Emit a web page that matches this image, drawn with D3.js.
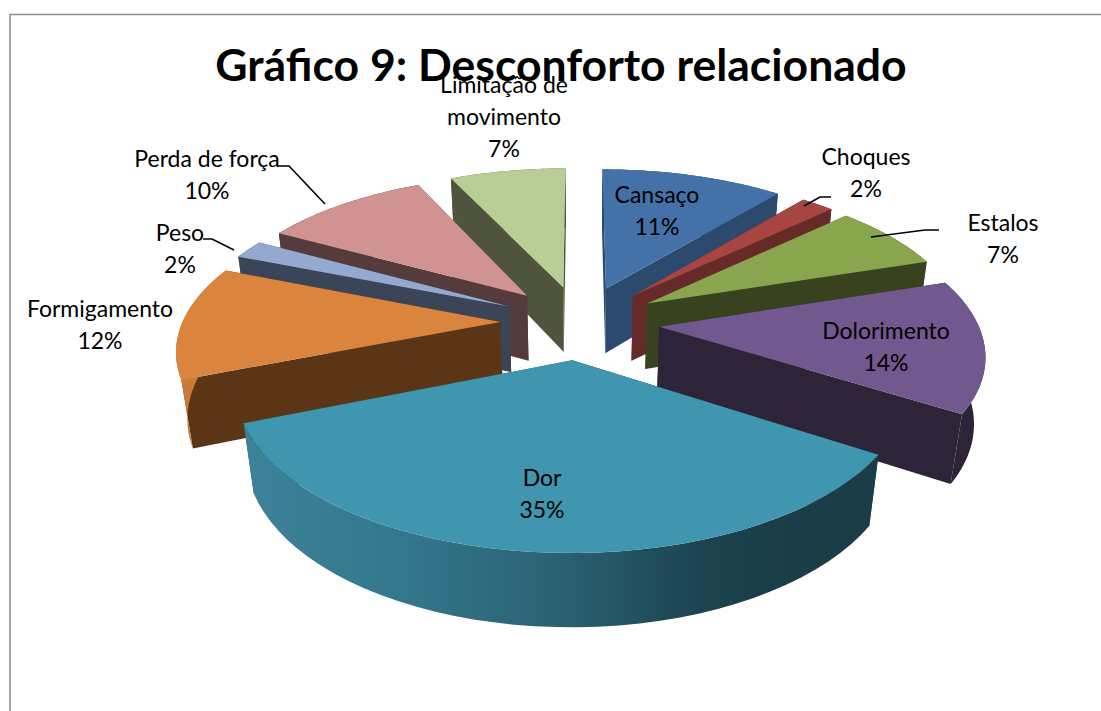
<!DOCTYPE html>
<html><head><meta charset="utf-8">
<script src="https://cdn.jsdelivr.net/npm/d3@7"></script>
<style>html,body{margin:0;padding:0;background:#fff;overflow:hidden}svg{display:block}text{font-family:Lato,"Open Sans",sans-serif;fill:#000}</style>
</head><body><svg id="c" width="1101" height="711"></svg>
<script>
const categories=["Cansaço","Choques","Estalos","Dolorimento","Dor","Formigamento","Peso","Perda de força","Limitação de movimento"];
const values=[11,2,7,14,35,12,2,10,7];
const topColors=["#4472a8","#a64541","#89a54e","#71588f","#4096ae","#db843d","#93a9cf","#d19392","#b9cd96"];
const wallColors=["#2b4a6e","#662a28","#38421e","#2e2439","#1a3d47","#5a3617","#3a4557","#553b3c","#4e553c"];
const labelLines=[["Cansaço"],["Choques"],["Estalos"],["Dolorimento"],["Dor"],["Formigamento"],["Peso"],["Perda de força"],["Limitação de","movimento"]];
const labelAnchors=[[657,203],[866,165],[1003,231],[886,339],[542,486],[100,317],[180,241],[207,167],[504,93]];
const leaders=[null,[[831,197],[820,197],[804,206]],[[939,230],[925,230],[871,237]],null,null,null,[[203,239],[212,239],[234,250]],[[277,166],[289,166],[325,204]],null];

const W=1101,H=711,FS=23,LH=32;
const cx=580,cy=322,R=318,K=148,D=68,P=.16,Q=.028,EX=.25;
const svg=d3.select("#c");
svg.append("rect").attr("x",10).attr("y",14.5).attr("width",1200).attr("height",800).attr("fill","#fff").attr("stroke","#8c8c8c").attr("stroke-width",1.5);

const project=(X,Y,h)=>{const f=1/(1-P*Y+Q*h);return [cx+R*X*f,cy+(K*Y+D*h)*f];};
const pie=d3.pie().sort(null).value(d=>d)(values);
const slices=pie.map((p,i)=>{
  const mid=(p.startAngle+p.endAngle)/2;
  return {i,a0:p.startAngle,a1:p.endAngle,mid,ax:EX*Math.sin(mid),ay:-EX*Math.cos(mid)};
});
const line=d3.line();
const pt=(s,r,a,h)=>project(s.ax+r*Math.sin(a),s.ay-r*Math.cos(a),h);
const arcAngles=s=>d3.range(0,41).map(t=>s.a0+(s.a1-s.a0)*t/40);

const defs=svg.append("defs");
const dorI=categories.indexOf("Dor");
const dor=slices[dorI];
const gx0=pt(dor,1,dor.a1,0)[0], gx1=pt(dor,1,dor.a0,0)[0];
const g=defs.append("linearGradient").attr("id","dorWall").attr("gradientUnits","userSpaceOnUse").attr("x1",gx0).attr("x2",gx1).attr("y1",0).attr("y2",0);
[[0,"#3d8299"],[.25,"#34778c"],[.5,"#2a6172"],[.72,"#1c4350"],[.85,"#1a3d47"],[1,"#1a3d47"]].forEach(([o,c])=>g.append("stop").attr("offset",o).attr("stop-color",c));

const order=slices.slice().sort((a,b)=>a.ay-b.ay);
const gS=svg.append("g");
order.forEach(s=>{
  const wall=wallColors[s.i], top=topColors[s.i];
  const sg=gS.append("g").attr("class","slice");
  [s.a0,s.a1].forEach(a=>{
    const q=[pt(s,0,a,0),pt(s,1,a,0),pt(s,1,a,1),pt(s,0,a,1)];
    sg.append("path").attr("d",line(q)+"Z").attr("fill",wall);
  });
  const angs=arcAngles(s);
  const outer=angs.map(a=>pt(s,1,a,0)).concat(angs.slice().reverse().map(a=>pt(s,1,a,1)));
  const oc=s.i===dorI?"url(#dorWall)":(categories[s.i]==="Formigamento"?"#c97a36":wall);
  sg.append("path").attr("d",line(outer)+"Z").attr("fill",oc);
  const tp=[pt(s,0,s.a0,0)].concat(angs.map(a=>pt(s,1,a,0)));
  sg.append("path").attr("d",line(tp)+"Z").attr("fill",top);
});

const gL=svg.append("g");
leaders.forEach(l=>{ if(l) gL.append("path").attr("d",line(l)).attr("fill","none").attr("stroke","#000").attr("stroke-width",1.6); });

categories.forEach((c,i)=>{
  const rows=labelLines[i].concat([values[i]+"%"]);
  const [x,y]=labelAnchors[i];
  const t=gL.append("text").attr("text-anchor","middle").attr("font-size",FS);
  rows.forEach((r,k)=>t.append("tspan").attr("x",x).attr("y",y+k*LH).text(r));
});
svg.append("text").attr("x",561).attr("y",81).attr("text-anchor","middle").attr("font-size",44.5).attr("font-weight",700).text("Gráfico 9: Desconforto relacionado");
</script></body></html>
